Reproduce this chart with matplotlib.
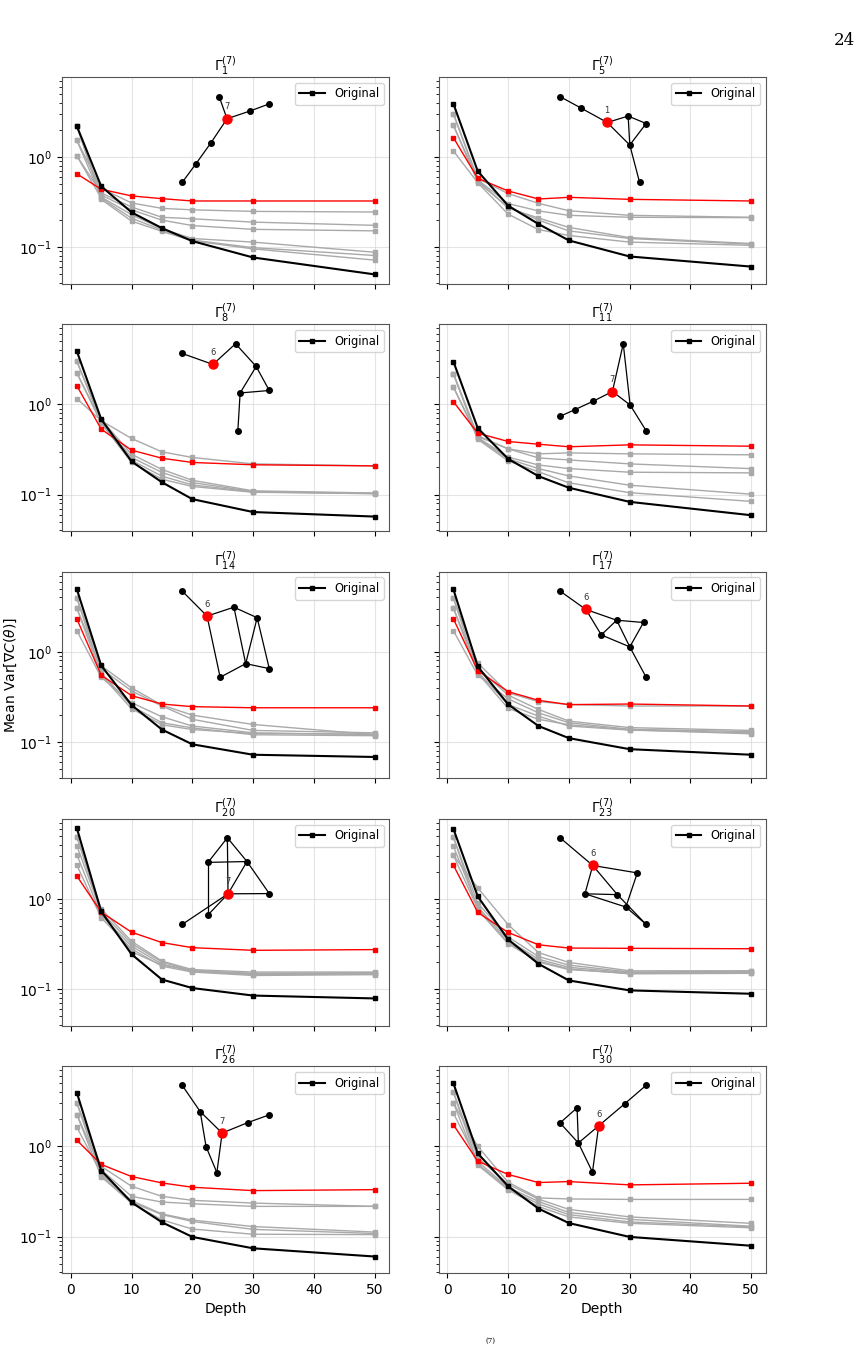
import matplotlib
matplotlib.use('Agg')
import matplotlib.pyplot as plt
from matplotlib.ticker import NullFormatter

# depths on the x axis
depths = [1, 5, 10, 15, 20, 30, 50]

# panel indices (subscript of Gamma^(7))
graph_ids = ['1', '5', '8', '11', '14', '17', '20', '23', '26', '30']

# --- black "Original" curves
orig_1 = [2.20, 0.475, 0.244, 0.163, 0.117, 0.077, 0.050]
orig_5 = [3.90, 0.698, 0.289, 0.181, 0.119, 0.079, 0.061]
orig_8 = [3.88, 0.687, 0.233, 0.137, 0.089, 0.064, 0.057]
orig_11 = [2.98, 0.546, 0.249, 0.160, 0.119, 0.083, 0.059]
orig_14 = [4.91, 0.704, 0.256, 0.137, 0.094, 0.072, 0.068]
orig_17 = [4.91, 0.686, 0.261, 0.150, 0.110, 0.083, 0.072]
orig_20 = [6.09, 0.728, 0.244, 0.128, 0.103, 0.085, 0.079]
orig_23 = [5.99, 1.07, 0.356, 0.191, 0.125, 0.097, 0.089]
orig_26 = [3.93, 0.540, 0.239, 0.144, 0.099, 0.074, 0.060]
orig_30 = [5.00, 0.836, 0.361, 0.204, 0.141, 0.099, 0.079]

# --- red curves
red_1 = [0.652, 0.440, 0.371, 0.346, 0.326, 0.326, 0.326]
red_5 = [1.64, 0.583, 0.421, 0.343, 0.358, 0.340, 0.326]
red_8 = [1.61, 0.532, 0.311, 0.253, 0.227, 0.214, 0.208]
red_11 = [1.07, 0.480, 0.388, 0.362, 0.339, 0.356, 0.344]
red_14 = [2.31, 0.549, 0.326, 0.263, 0.246, 0.239, 0.239]
red_17 = [2.31, 0.619, 0.361, 0.289, 0.259, 0.263, 0.250]
red_20 = [1.80, 0.716, 0.429, 0.329, 0.289, 0.270, 0.275]
red_23 = [2.37, 0.711, 0.426, 0.311, 0.286, 0.284, 0.281]
red_26 = [1.17, 0.630, 0.463, 0.393, 0.352, 0.323, 0.331]
red_30 = [1.73, 0.686, 0.488, 0.397, 0.407, 0.374, 0.390]

# --- gray curves
gray_1 = [[1.53, 0.45, 0.31, 0.27, 0.26, 0.25, 0.246],
          [1.03, 0.40, 0.28, 0.215, 0.207, 0.19, 0.175],
          [2.20, 0.38, 0.26, 0.20, 0.174, 0.158, 0.152],
          [1.53, 0.36, 0.23, 0.16, 0.125, 0.114, 0.088],
          [1.03, 0.35, 0.21, 0.155, 0.12, 0.099, 0.081],
          [2.20, 0.34, 0.195, 0.15, 0.118, 0.096, 0.072]]
gray_5 = [[3.02, 0.58, 0.394, 0.307, 0.254, 0.226, 0.215],
          [2.25, 0.56, 0.305, 0.253, 0.226, 0.215, 0.213],
          [1.17, 0.52, 0.233, 0.157, 0.135, 0.114, 0.105],
          [3.02, 0.55, 0.272, 0.211, 0.166, 0.128, 0.110],
          [2.25, 0.53, 0.28, 0.20, 0.152, 0.125, 0.108]]
gray_8 = [[1.16, 0.66, 0.419, 0.298, 0.258, 0.219, 0.208],
          [3.00, 0.68, 0.28, 0.19, 0.144, 0.110, 0.104],
          [2.23, 0.65, 0.258, 0.176, 0.136, 0.108, 0.103],
          [3.00, 0.63, 0.24, 0.16, 0.128, 0.107, 0.102],
          [2.23, 0.62, 0.227, 0.148, 0.123, 0.106, 0.103]]
gray_11 = [[2.19, 0.45, 0.322, 0.283, 0.290, 0.283, 0.276],
           [1.56, 0.44, 0.322, 0.255, 0.242, 0.219, 0.194],
           [2.19, 0.43, 0.26, 0.213, 0.194, 0.177, 0.174],
           [1.56, 0.42, 0.249, 0.194, 0.161, 0.127, 0.101],
           [2.19, 0.41, 0.236, 0.179, 0.135, 0.105, 0.084]]
gray_14 = [[3.93, 0.70, 0.397, 0.256, 0.198, 0.156, 0.120],
           [3.04, 0.65, 0.368, 0.25, 0.178, 0.134, 0.126],
           [1.71, 0.52, 0.272, 0.19, 0.15, 0.126, 0.120],
           [3.93, 0.58, 0.25, 0.163, 0.143, 0.12, 0.117],
           [3.04, 0.55, 0.233, 0.155, 0.137, 0.124, 0.122]]
gray_17 = [[3.93, 0.75, 0.35, 0.28, 0.26, 0.25, 0.25],
           [3.04, 0.66, 0.33, 0.229, 0.17, 0.144, 0.134],
           [1.71, 0.55, 0.30, 0.21, 0.163, 0.138, 0.13],
           [3.93, 0.60, 0.26, 0.193, 0.15, 0.135, 0.126],
           [3.04, 0.58, 0.235, 0.178, 0.155, 0.136, 0.123]]
gray_20 = [[4.91, 0.78, 0.34, 0.205, 0.165, 0.155, 0.155],
           [3.90, 0.72, 0.32, 0.20, 0.16, 0.15, 0.152],
           [3.09, 0.66, 0.30, 0.19, 0.158, 0.145, 0.148],
           [2.37, 0.62, 0.28, 0.18, 0.155, 0.142, 0.145],
           [4.91, 0.70, 0.26, 0.185, 0.162, 0.148, 0.15]]
gray_23 = [[3.06, 1.33, 0.52, 0.255, 0.198, 0.16, 0.16],
           [4.85, 0.90, 0.38, 0.23, 0.185, 0.155, 0.158],
           [3.84, 0.82, 0.35, 0.215, 0.175, 0.152, 0.155],
           [3.06, 0.78, 0.33, 0.205, 0.168, 0.148, 0.15],
           [4.85, 0.76, 0.32, 0.20, 0.165, 0.15, 0.152]]
gray_26 = [[3.02, 0.60, 0.361, 0.279, 0.252, 0.235, 0.216],
           [2.25, 0.55, 0.279, 0.241, 0.231, 0.216, 0.216],
           [1.63, 0.50, 0.25, 0.178, 0.152, 0.129, 0.112],
           [3.02, 0.48, 0.24, 0.175, 0.147, 0.12, 0.108],
           [2.25, 0.46, 0.235, 0.153, 0.121, 0.106, 0.105]]
gray_30 = [[3.04, 1.00, 0.40, 0.268, 0.261, 0.258, 0.258],
           [3.97, 0.75, 0.38, 0.26, 0.20, 0.165, 0.14],
           [2.33, 0.68, 0.35, 0.245, 0.185, 0.155, 0.13],
           [3.97, 0.64, 0.34, 0.23, 0.175, 0.145, 0.128],
           [3.04, 0.62, 0.33, 0.215, 0.165, 0.14, 0.125]]

# --- graph drawings (node layout x, y; edges; highlighted node, its label)
nodes_x_1 = [0.480, 0.504, 0.575, 0.633, 0.455, 0.408, 0.367]
nodes_y_1 = [0.905, 0.798, 0.836, 0.870, 0.682, 0.578, 0.490]
edges_1 = [(0, 1), (1, 2), (2, 3), (1, 4), (4, 5), (5, 6)]

nodes_x_5 = [0.371, 0.436, 0.515, 0.579, 0.634, 0.584, 0.614]
nodes_y_5 = [0.905, 0.849, 0.780, 0.811, 0.775, 0.671, 0.490]
edges_5 = [(0, 1), (1, 2), (2, 3), (3, 4), (2, 5), (3, 5), (4, 5), (5, 6)]

nodes_x_8 = [0.367, 0.461, 0.530, 0.593, 0.633, 0.544, 0.537]
nodes_y_8 = [0.859, 0.806, 0.906, 0.796, 0.680, 0.668, 0.485]
edges_8 = [(0, 1), (1, 2), (2, 3), (3, 5), (3, 4), (4, 5), (5, 6)]

nodes_x_11 = [0.371, 0.416, 0.472, 0.531, 0.564, 0.585, 0.634]
nodes_y_11 = [0.555, 0.587, 0.628, 0.675, 0.906, 0.610, 0.485]
edges_11 = [(0, 1), (1, 2), (2, 3), (3, 4), (4, 5), (3, 5), (5, 6)]

nodes_x_14 = [0.367, 0.443, 0.525, 0.596, 0.561, 0.483, 0.633]
nodes_y_14 = [0.906, 0.785, 0.828, 0.777, 0.555, 0.489, 0.531]
edges_14 = [(0, 1), (1, 2), (1, 5), (5, 4), (2, 4), (2, 3), (3, 4), (3, 6), (4, 6)]

nodes_x_17 = [0.371, 0.450, 0.544, 0.626, 0.497, 0.584, 0.634]
nodes_y_17 = [0.906, 0.817, 0.765, 0.754, 0.694, 0.636, 0.489]
edges_17 = [(0, 1), (1, 2), (2, 3), (1, 4), (4, 2), (2, 5), (4, 5), (3, 5), (5, 6)]

nodes_x_20 = [0.505, 0.446, 0.565, 0.507, 0.633, 0.446, 0.367]
nodes_y_20 = [0.909, 0.790, 0.794, 0.638, 0.639, 0.536, 0.490]
edges_20 = [(0, 1), (0, 2), (1, 2), (0, 3), (1, 5), (2, 3), (2, 4), (3, 4),
            (3, 5), (3, 6)]

nodes_x_23 = [0.371, 0.471, 0.607, 0.447, 0.546, 0.572, 0.634]
nodes_y_23 = [0.909, 0.775, 0.739, 0.638, 0.634, 0.574, 0.490]
edges_23 = [(0, 1), (1, 2), (1, 3), (1, 4), (4, 6), (2, 5), (3, 4), (3, 5),
            (5, 6)]

nodes_x_26 = [0.367, 0.422, 0.489, 0.568, 0.633, 0.440, 0.473]
nodes_y_26 = [0.908, 0.781, 0.677, 0.728, 0.765, 0.611, 0.486]
edges_26 = [(0, 1), (1, 2), (1, 5), (5, 6), (2, 6), (2, 3), (3, 4)]

nodes_x_30 = [0.371, 0.423, 0.427, 0.489, 0.568, 0.634, 0.470]
nodes_y_30 = [0.726, 0.799, 0.629, 0.712, 0.818, 0.908, 0.488]
edges_30 = [(0, 1), (0, 2), (1, 2), (2, 3), (3, 4), (4, 5), (2, 6), (3, 6)]

hub_nodes = [1, 2, 1, 3, 1, 1, 3, 1, 2, 3]
hub_labels = ['7', '1', '6', '7', '6', '6', '7', '6', '7', '6']

originals = [orig_1, orig_5, orig_8, orig_11, orig_14, orig_17, orig_20, orig_23, orig_26, orig_30]
reds = [red_1, red_5, red_8, red_11, red_14, red_17, red_20, red_23, red_26, red_30]
grays = [gray_1, gray_5, gray_8, gray_11, gray_14, gray_17, gray_20, gray_23, gray_26, gray_30]
layouts = [(nodes_x_1, nodes_y_1, edges_1), (nodes_x_5, nodes_y_5, edges_5),
           (nodes_x_8, nodes_y_8, edges_8), (nodes_x_11, nodes_y_11, edges_11),
           (nodes_x_14, nodes_y_14, edges_14), (nodes_x_17, nodes_y_17, edges_17),
           (nodes_x_20, nodes_y_20, edges_20), (nodes_x_23, nodes_y_23, edges_23),
           (nodes_x_26, nodes_y_26, edges_26), (nodes_x_30, nodes_y_30, edges_30)]

fig, axes = plt.subplots(5, 2, sharex=True, sharey=True, figsize=(8.6, 13.46), dpi=100)
fig.subplots_adjust(left=0.0721, right=0.8907, top=0.9428, bottom=0.0542,
                    wspace=0.15, hspace=0.196)

for k, ax in enumerate(axes.flat):
    for g in grays[k]:
        ax.plot(depths, g, color='darkgray', marker='s', ms=3, lw=1)
    ax.plot(depths, reds[k], color='red', marker='s', ms=3, lw=1)
    ax.plot(depths, originals[k], color='black', marker='s', ms=3, lw=1.5, label='Original')
    ax.set_yscale('log')
    ax.yaxis.set_minor_formatter(NullFormatter())
    ax.grid(True, color='lightgray', lw=0.8, alpha=0.6)
    ax.set_title(r'$\Gamma^{(7)}_{%s}$' % graph_ids[k], fontsize=10, pad=2)
    ax.legend(loc='upper right', fontsize=8.3, handlelength=2.2)
    for s in ax.spines.values():
        s.set_color('#555555')
    ax.tick_params(labelsize=10)

    # small graph drawing
    gx, gy, ge = layouts[k]
    ins = ax.inset_axes([0, 0, 1, 1])
    ins.set_xlim(0, 1)
    ins.set_ylim(0, 1)
    ins.axis('off')
    for a, b in ge:
        ins.plot([gx[a], gx[b]], [gy[a], gy[b]], color='black', lw=0.9, zorder=1)
    ins.plot(gx, gy, 'o', color='black', ms=4, zorder=2)
    h = hub_nodes[k]
    ins.plot(gx[h], gy[h], 'o', color='red', ms=6.5, zorder=3)
    ins.annotate(hub_labels[k], (gx[h], gy[h]), xytext=(0, 8.5), textcoords='offset points',
                 ha='center', va='center', fontsize=6, color='#333333')

axes[0, 0].set_xlim(-1.45, 52.45)
axes[0, 0].set_xticks([0, 10, 20, 30, 40, 50])
axes[2, 0].set_ylabel(r'Mean Var[$\nabla C(\theta)$]', fontsize=10)
axes[2, 0].yaxis.set_label_coords(-0.13, 0.5)
axes[4, 0].set_xlabel('Depth', fontsize=10)
axes[4, 1].set_xlabel('Depth', fontsize=10)

fig.text(0.994, 0.970, '24', ha='right', va='center', fontsize=12, family='DejaVu Serif')
fig.text(0.570, 0.001, '(7)', ha='center', va='bottom', fontsize=5, family='DejaVu Serif')

plt.savefig('out.png', dpi=100)
